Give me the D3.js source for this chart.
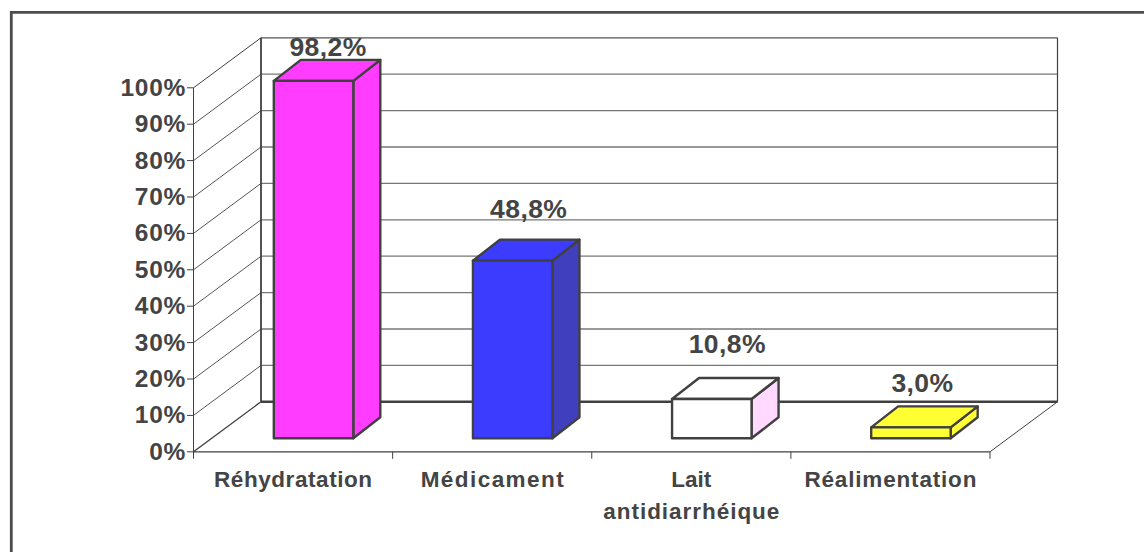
<!DOCTYPE html>
<html>
<head>
<meta charset="utf-8">
<script src="https://cdn.jsdelivr.net/npm/d3@7"></script>
<style>
  html, body { margin: 0; padding: 0; background: #fff; overflow: hidden; }
  svg { display: block; }
  text { font-family: "Liberation Sans", Arial, sans-serif; font-weight: bold; fill: #444; }
</style>
</head>
<body>
<svg id="chart" width="1144" height="552"></svg>
<script>
const categories = [["Réhydratation"], ["Médicament"], ["Lait", "antidiarrhéique"], ["Réalimentation"]];
const values = [98.2, 48.8, 10.8, 3.0];
const valueLabels = ["98,2%", "48,8%", "10,8%", "3,0%"];
const tickValues = [0, 10, 20, 30, 40, 50, 60, 70, 80, 90, 100];
const frontColors = ["#ff3cff", "#3c3cff", "#ffffff", "#ffff33"];
const sideColors = ["#ff3cff", "#4040bf", "#ffd9ff", "#ffff33"];

// Hand-placed layout for the annotations
const labelLift = [25, 43, 46, 35];
const labelShift = [14.5, 16, 15.5, 11.5];
const categoryWidths = [[158], [143], [40, 176], [172]];

const ink = "#404040";
const svg = d3.select("#chart");

// Oblique projection: the floor recedes up and to the right.
const depthX = 67.5, depthY = -50;
const x = d3.scaleBand().domain(d3.range(categories.length)).range([193.5, 990]);
const y = d3.scaleLinear().domain([0, 100]).range([451.8, 87.8]);
const [x0, x1] = x.range();

// Outer frame, running off the right and bottom of the page
svg.append("path").attr("d", "M11.3,552V12.4H1144")
  .attr("fill", "none").attr("stroke", "#4d4d4d").attr("stroke-width", 2.8);

const grid = svg.append("g").attr("fill", "none");

// Gridlines across the side wall and the back wall
tickValues.forEach(t => {
  const yy = y(t);
  grid.append("line").attr("x1", x0).attr("y1", yy).attr("x2", x0 + depthX).attr("y2", yy + depthY)
    .attr("stroke", t === 100 || t === 0 ? ink : "#555").attr("stroke-width", t === 0 ? 1.4 : 1);
  grid.append("line").attr("x1", x0 + depthX).attr("y1", yy + depthY).attr("x2", x1 + depthX).attr("y2", yy + depthY)
    .attr("stroke", t === 100 ? "#555" : "#777").attr("stroke-width", 1.3);
});
// Back-wall heavy floor edge, wall verticals and floor outline
grid.append("line").attr("x1", x0 + depthX).attr("x2", x1 + depthX).attr("y1", y(0) + depthY).attr("y2", y(0) + depthY)
  .attr("stroke", ink).attr("stroke-width", 2.4);
grid.append("line").attr("x1", x0 + depthX).attr("x2", x0 + depthX).attr("y1", y(100) + depthY).attr("y2", y(0) + depthY)
  .attr("stroke", ink).attr("stroke-width", 1.8);
grid.append("line").attr("x1", x1 + depthX).attr("x2", x1 + depthX).attr("y1", y(100) + depthY).attr("y2", y(0) + depthY)
  .attr("stroke", ink).attr("stroke-width", 1.2);
grid.append("line").attr("x1", x1).attr("x2", x1 + depthX).attr("y1", y(0)).attr("y2", y(0) + depthY)
  .attr("stroke", ink).attr("stroke-width", 1);

// Front axes with ticks
grid.append("line").attr("x1", x0).attr("x2", x0).attr("y1", y(100)).attr("y2", y(0))
  .attr("stroke", ink).attr("stroke-width", 1);
grid.append("line").attr("x1", x0).attr("x2", x1).attr("y1", y(0)).attr("y2", y(0))
  .attr("stroke", ink).attr("stroke-width", 1.3);
tickValues.forEach(t => {
  grid.append("line").attr("x1", 187).attr("x2", x0).attr("y1", y(t)).attr("y2", y(t))
    .attr("stroke", ink).attr("stroke-width", 1);
});
d3.range(categories.length + 1).forEach(i => {
  const tx = i < categories.length ? x(i) : x1;
  grid.append("line").attr("x1", tx).attr("x2", tx).attr("y1", y(0)).attr("y2", y(0) + 7)
    .attr("stroke", ink).attr("stroke-width", 1);
});

// Value-axis tick labels
svg.append("g").selectAll("text").data(tickValues).join("text")
  .attr("x", 186).attr("y", d => y(d) + 8)
  .attr("text-anchor", "end").attr("font-size", 24.5).attr("letter-spacing", 0.7)
  .text(d => d + "%");

// 3D columns, each sitting a little behind the front edge of the floor
const barWidth = 79.5, barDepthX = 27, barDepthY = -21, floorInsetY = -13.5, floorInsetX = 20.5;
const bars = svg.append("g").selectAll("g").data(values).join("g");
bars.each(function (v, i) {
  const g = d3.select(this);
  const left = x(i) + x.bandwidth() / 2 + floorInsetX - barWidth / 2;
  const right = left + barWidth;
  const bottom = y(0) + floorInsetY;
  const top = bottom - (y(0) - y(v));
  const poly = (pts, fill) => g.append("polygon").attr("points", pts.join(" ")).attr("fill", fill)
    .attr("stroke", ink).attr("stroke-width", 2.4).attr("stroke-linejoin", "round");
  poly([[right, bottom], [right + barDepthX, bottom + barDepthY], [right + barDepthX, top + barDepthY], [right, top]], sideColors[i]);
  poly([[left, top], [right, top], [right + barDepthX, top + barDepthY], [left + barDepthX, top + barDepthY]], frontColors[i]);
  poly([[left, bottom], [right, bottom], [right, top], [left, top]], frontColors[i]);
  g.append("text")
    .attr("x", left + barWidth / 2 + labelShift[i])
    .attr("y", top - labelLift[i])
    .attr("text-anchor", "middle").attr("font-size", 26.5).attr("letter-spacing", 0.4)
    .text(valueLabels[i]);
});

// Category labels, stretched to their set widths
const catLabels = svg.append("g").selectAll("text").data(categories).join("text")
  .attr("font-size", 22.5);
catLabels.each(function (lines, i) {
  d3.select(this).selectAll("tspan").data(lines).join("tspan")
    .attr("x", (d, k) => x(i) + x.bandwidth() / 2 - categoryWidths[i][k] / 2)
    .attr("y", (d, k) => 487 + k * 32)
    .attr("textLength", (d, k) => categoryWidths[i][k])
    .attr("lengthAdjust", "spacing")
    .text(d => d);
});
</script>
</body>
</html>
